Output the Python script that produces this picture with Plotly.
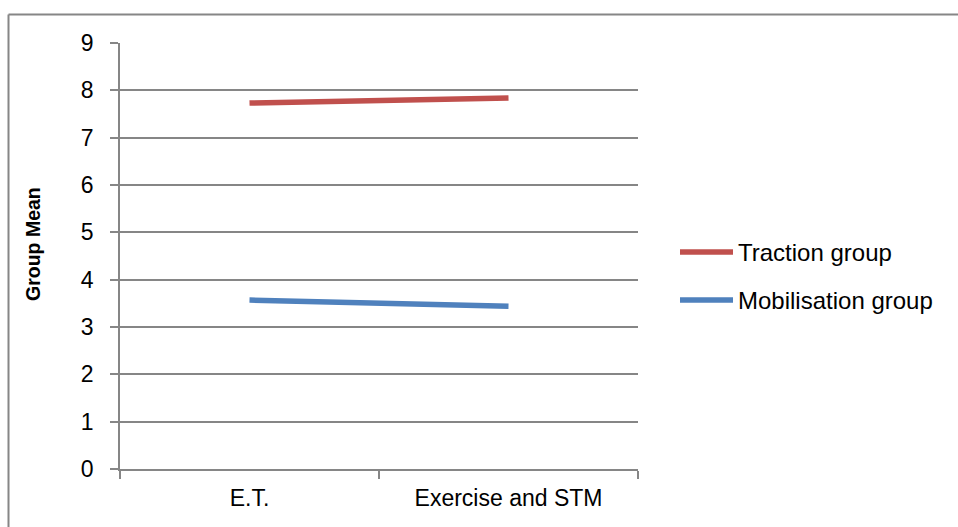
import plotly.graph_objects as go

categories = ["E.T.", "Exercise and STM"]
series_names = ["Traction group", "Mobilisation group"]
traction = [7.73, 7.84]
mobilisation = [3.57, 3.44]
y_ticks = list(range(0, 10))
colors = ["#C0504D", "#4F81BD"]

W, H = 958, 527
PL, PR, PT, PB = 120, 638, 43, 469          # plot box in pixels
L, T = PL, PT
R = W - PR
B = H - PB
pw, ph = PR - PL, PB - PT

def px(sx):
    return (sx - PL) / pw

def py(sy):
    return (PB - sy) / ph

grid = "#868686"
font = "Liberation Sans"

fig = go.Figure()
for name, vals, col in zip(series_names, [traction, mobilisation], colors):
    fig.add_trace(go.Scatter(x=categories, y=vals, mode="lines", name=name,
                             line=dict(color=col, width=5.5), showlegend=False))

# outer frame: only top and left edges are visible in the reference
shapes = [
    dict(type="line", xref="paper", yref="paper", x0=px(8.5), x1=px(1100), y0=py(14.5), y1=py(14.5),
         line=dict(color=grid, width=2), layer="below"),
    dict(type="line", xref="paper", yref="paper", x0=px(8.5), x1=px(8.5), y0=py(14.5), y1=py(700),
         line=dict(color=grid, width=2), layer="below"),
]
annotations = [dict(text="<b>Group Mean</b>", xref="paper", yref="paper",
                    x=px(33), y=py(244), textangle=-90, showarrow=False,
                    font=dict(size=19.5), xanchor="center", yanchor="middle")]

# legend drawn as line samples + labels
for name, col, sy in zip(series_names, colors, [252, 300]):
    shapes.append(dict(type="line", xref="paper", yref="paper",
                       x0=px(680), x1=px(733), y0=py(sy), y1=py(sy),
                       line=dict(color=col, width=5.5)))
    annotations.append(dict(text=name, xref="paper", yref="paper", x=px(736), y=py(sy),
                            xanchor="left", yanchor="middle", showarrow=False,
                            font=dict(size=24)))

fig.update_layout(
    width=W, height=H,
    margin=dict(l=L, r=R, t=T, b=B),
    paper_bgcolor="white", plot_bgcolor="white",
    font=dict(family=font, size=23, color="black"),
    showlegend=False,
    hovermode=False,
    xaxis=dict(type="category", range=[-0.5, 1.5], tickson="boundaries",
               showgrid=False, showline=True, linecolor=grid, linewidth=1.5,
               ticks="outside", ticklen=8, tickcolor=grid, tickwidth=1.5,
               ticklabelstandoff=8, zeroline=False),
    yaxis=dict(range=[0, 9], tickvals=y_ticks, showgrid=True, gridcolor=grid, gridwidth=1.5,
               showline=True, linecolor=grid, linewidth=1.5,
               ticks="outside", ticklen=8, tickcolor=grid, tickwidth=1.5,
               ticklabelstandoff=12, zeroline=False),
    shapes=shapes,
    annotations=annotations,
)

fig.write_html("out.html", config={"displayModeBar": False},
               post_script="document.body.style.margin='0';document.body.style.overflow='hidden';")
